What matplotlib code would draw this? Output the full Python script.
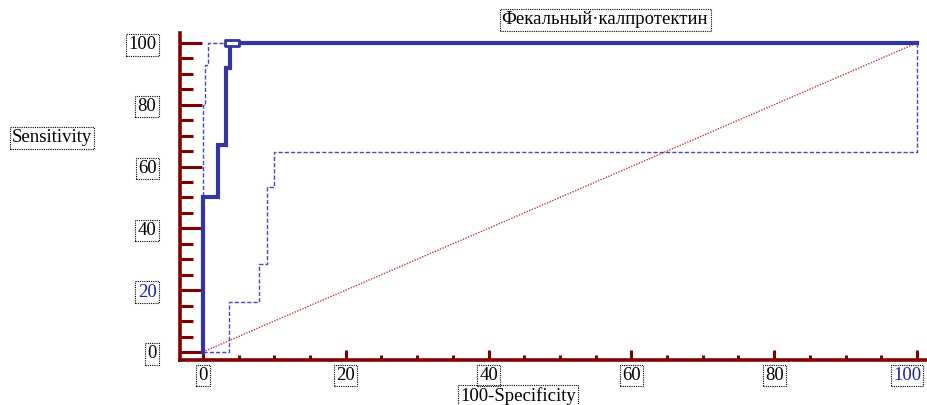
import matplotlib
matplotlib.use("Agg")
import matplotlib.pyplot as plt
import matplotlib.transforms as mtransforms
from matplotlib.path import Path

# ---- data ----
roc_x = [0, 0, 2.1, 2.1, 3.2, 3.2, 3.8, 3.8, 100]
roc_y = [0, 50, 50, 67, 67, 92, 92, 100, 100]

lo_x = [0, 3.7, 3.7, 7.8, 7.8, 9.0, 9.0, 10.0, 10.0, 100, 100]
lo_y = [0, 0, 16.2, 16.2, 28.5, 28.5, 53.4, 53.4, 64.7, 64.7, 100]

hi_x = [0, 0, 0.3, 0.3, 0.7, 0.7, 4.0]
hi_y = [0, 80, 80, 93, 93, 100, 100]

diag_x = [0, 100]
diag_y = [0, 100]

opt_x = [4.1]
opt_y = [100]

xticks = [0, 20, 40, 60, 80, 100]
yticks = [0, 20, 40, 60, 80, 100]
title = "Фекальный·калпротектин"
xlabel = "100-Specificity"
ylabel = "Sensitivity"

# ---- style ----
axis_col = "#800000"
blue = "#3434a4"
dash_blue = "#4545c8"
font = ["Liberation Serif", "DejaVu Serif"]
box = dict(boxstyle="square,pad=0.12", fc="none", ec="black", ls=(0, (1, 1)), lw=0.8)

plt.rcParams["font.family"] = font

fig = plt.figure(figsize=(9.27, 4.05), dpi=100)
ax = fig.add_axes([180 / 927, 45 / 405, 1 - 180 / 927, (360 - 33) / 405])

ax.plot(diag_x, diag_y, color="#c03838", lw=1.0, ls=(0, (1, 1)), zorder=2)
ax.plot(lo_x, lo_y, color=dash_blue, lw=1.0, ls=(0, (3, 1.5)), zorder=3)
ax.plot(hi_x, hi_y, color=dash_blue, lw=1.0, ls=(0, (3, 1.5)), zorder=3)
ax.plot(roc_x, roc_y, color=blue, lw=3.0, solid_joinstyle="miter", zorder=4)

rect = Path([(-1, -0.5), (1, -0.5), (1, 0.5), (-1, 0.5), (-1, -0.5)],
            [Path.MOVETO, Path.LINETO, Path.LINETO, Path.LINETO, Path.CLOSEPOLY])
ax.plot(opt_x, opt_y, ls="none", marker=rect, markersize=10, mfc="white",
        mec=blue, mew=2, zorder=5)

ax.set_xlim(-3.2, 101.4)
ax.set_ylim(-2.6, 103.2)

for s in ["top", "right"]:
    ax.spines[s].set_visible(False)
for s in ["left", "bottom"]:
    ax.spines[s].set_color(axis_col)
    ax.spines[s].set_linewidth(2.6)

ax.set_xticks(xticks)
ax.set_yticks(yticks)
ax.set_xticks(range(0, 101, 5), minor=True)
ax.set_yticks(range(0, 101, 5), minor=True)

ax.tick_params(axis="y", which="major", direction="in", length=16, width=2.2,
               color=axis_col, pad=17, labelsize=13.5)
ax.tick_params(axis="y", which="minor", direction="in", length=9, width=2.2,
               color=axis_col)
ax.tick_params(axis="x", which="major", direction="in", length=7, width=2.2,
               color=axis_col, pad=5, labelsize=13.5)
ax.tick_params(axis="x", which="minor", direction="in", length=3.5, width=2.2,
               color=axis_col)

for lab in ax.get_yticklabels() + ax.get_xticklabels():
    lab.set_bbox(box)
ax.get_yticklabels()[1].set_color("#2020a0")
last = ax.get_xticklabels()[-1]
last.set_color("#2020a0")
last.set_transform(last.get_transform() +
                   mtransforms.ScaledTranslation(-10 / 100, 0, fig.dpi_scale_trans))

fig.text(605 / 927, 1 - 20 / 405, title, ha="center", va="center",
         fontsize=13.5, bbox=box)
fig.text(518 / 927, 1 - 396 / 405, xlabel, ha="center", va="center",
         fontsize=13.5, bbox=box)
fig.text(52 / 927, 1 - 138 / 405, ylabel, ha="center", va="center",
         fontsize=13.5, bbox=box)

fig.savefig("out.png", dpi=100)
